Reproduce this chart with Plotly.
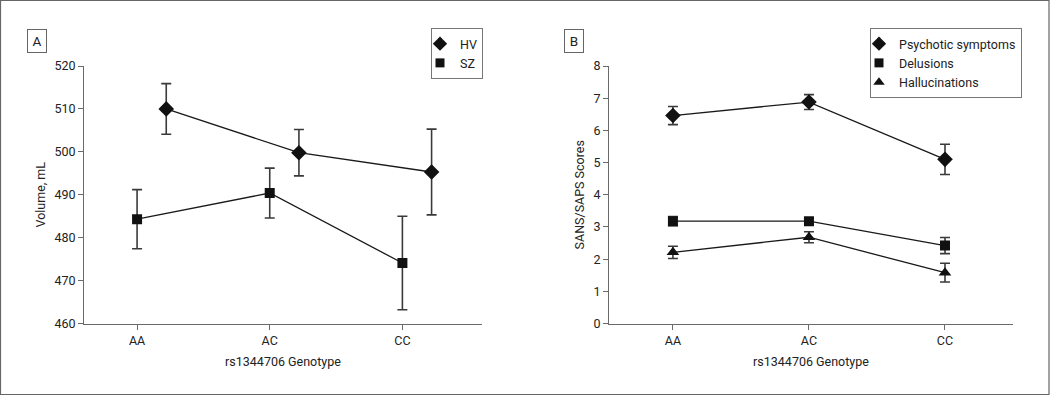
import plotly.graph_objects as go

# ---- data ----
categories = ["AA", "AC", "CC"]

hv_mean = [510.0, 499.8, 495.3]
hv_err = [5.9, 5.4, 10.0]
sz_mean = [484.3, 490.4, 474.1]
sz_err = [6.9, 5.8, 10.9]

psych_mean = [6.46, 6.88, 5.10]
psych_err = [0.28, 0.23, 0.47]
delus_mean = [3.18, 3.18, 2.42]
delus_err = [0.14, 0.09, 0.25]
hallu_mean = [2.21, 2.68, 1.58]
hallu_err = [0.19, 0.17, 0.29]

y_ticks_a = [460, 470, 480, 490, 500, 510, 520]
y_ticks_b = [0, 1, 2, 3, 4, 5, 6, 7, 8]

# ---- style ----
FONT = "Roboto, Liberation Sans, sans-serif"
FS = 12.5
TXT = "#222222"
AX = "#6a6a6a"
LINE = "#1a1a1a"
ERR = "#3a3a3a"
HV_OFFSET = 0.22
W, H = 1050, 396

xpos = list(range(len(categories)))

fig = go.Figure()


def add_series(name, xs, ys, err, symbol, size, xa, ya, legend):
    fig.add_trace(go.Scatter(
        x=xs, y=ys, mode="lines+markers", name=name,
        xaxis=xa, yaxis=ya, showlegend=False,
        line=dict(color=LINE, width=1.3),
        marker=dict(symbol=symbol, size=size, color="#111111"),
        error_y=dict(type="data", array=err, visible=True,
                     color=ERR, thickness=1.6, width=5),
    ))
    # legend-only marker entry
    fig.add_trace(go.Scatter(
        x=[None], y=[None], mode="markers", name=name,
        xaxis=xa, yaxis=ya, legend=legend, showlegend=True,
        marker=dict(symbol=symbol, size=size - 1, color="#111111"),
    ))


add_series("HV", [x + HV_OFFSET for x in xpos], hv_mean, hv_err,
           "diamond", 12, "x", "y", "legend")
add_series("SZ", xpos, sz_mean, sz_err, "square", 10, "x", "y", "legend")

add_series("Psychotic symptoms", xpos, psych_mean, psych_err,
           "diamond", 12, "x2", "y2", "legend2")
add_series("Delusions", xpos, delus_mean, delus_err,
           "square", 10, "x2", "y2", "legend2")
add_series("Hallucinations", xpos, hallu_mean, hallu_err,
           "triangle-up", 11, "x2", "y2", "legend2")

axis_common = dict(
    showgrid=False, zeroline=False, showline=True, linecolor=AX,
    linewidth=1, ticks="outside", ticklen=5, tickcolor=AX,
    automargin=False,
    tickfont=dict(family=FONT, size=FS, color=TXT),
    title_font=dict(family=FONT, size=FS, color=TXT),
)

py0, py1 = 1 - 323.5 / H, 1 - 66 / H

legend_common = dict(
    yanchor="top", xanchor="right",
    bordercolor="#777777", borderwidth=1, bgcolor="white",
    font=dict(family=FONT, size=FS, color=TXT),
    tracegroupgap=0, itemwidth=30, indentation=-12,
)

label_common = dict(
    xref="paper", yref="paper", xanchor="center", yanchor="middle",
    showarrow=False, font=dict(family=FONT, size=FS + 1, color=TXT),
    bordercolor="#666666", borderwidth=1, borderpad=3,
    bgcolor="white", width=12,
)

fig.update_layout(
    width=W, height=H,
    margin=dict(l=0, r=0, t=0, b=0, pad=0, autoexpand=False),
    paper_bgcolor="white", plot_bgcolor="white",
    font=dict(family=FONT, size=FS, color=TXT),
    xaxis=dict(axis_common, domain=[84 / W, 482 / W], range=[-0.4, 2.6],
               tickvals=xpos, ticktext=categories, anchor="y",
               title=dict(text="rs1344706 Genotype", standoff=10)),
    yaxis=dict(axis_common, domain=[py0, py1], range=[460, 520],
               tickvals=y_ticks_a, anchor="x",
               title=dict(text="Volume, mL", standoff=6)),
    xaxis2=dict(axis_common, domain=[609 / W, 1013 / W], range=[-0.47, 2.5],
                tickvals=xpos, ticktext=categories, anchor="y2",
                title=dict(text="rs1344706 Genotype", standoff=10)),
    yaxis2=dict(axis_common, domain=[py0, py1], range=[0, 8],
                tickvals=y_ticks_b, anchor="x2",
                title=dict(text="SANS/SAPS Scores", standoff=6)),
    legend=dict(legend_common, x=483 / W, y=1 - 28 / H),
    legend2=dict(legend_common, x=1022 / W, y=1 - 28 / H),
    shapes=[
        dict(type="rect", xref="paper", yref="paper",
             x0=0.5 / W, x1=1 - 1 / W, y0=1.5 / H, y1=1 - 0.5 / H,
             line=dict(color="#666666", width=1.2)),
    ],
    annotations=[
        dict(label_common, text="A", x=37 / W, y=1 - 41.5 / H),
        dict(label_common, text="B", x=574 / W, y=1 - 41.5 / H),
    ],
)

PAGE_JS = (
    "document.documentElement.style.margin='0';"
    "document.documentElement.style.padding='0';"
    "document.documentElement.style.overflow='hidden';"
    "document.body.style.margin='0';"
    "document.body.style.padding='0';"
    "document.body.style.overflow='hidden';"
    "var d=document.getElementById('{plot_id}');"
    "d.style.position='fixed';d.style.top='0px';d.style.left='0px';"
)

fig.write_html(
    "out.html",
    config={"displayModeBar": False},
    post_script=PAGE_JS,
)
